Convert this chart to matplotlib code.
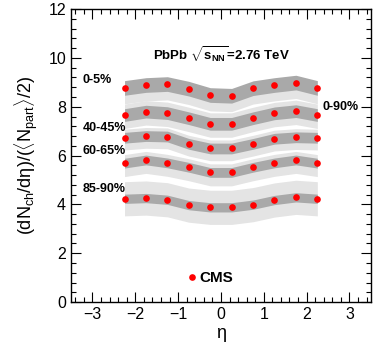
import numpy as np
import matplotlib.pyplot as plt
from matplotlib.ticker import MultipleLocator

plt.rcParams['font.family'] = ['Liberation Sans', 'DejaVu Sans']
plt.rcParams['mathtext.fontset'] = 'custom'
plt.rcParams['mathtext.rm'] = 'Liberation Sans'
plt.rcParams['mathtext.it'] = 'Liberation Sans'
plt.rcParams['mathtext.bf'] = 'Liberation Sans:bold'

eta = [-2.25, -1.75, -1.25, -0.75, -0.25, 0.25, 0.75, 1.25, 1.75, 2.25]

cent_0_5 = [8.77, 8.89, 8.93, 8.74, 8.48, 8.45, 8.76, 8.89, 8.99, 8.77]
cent_0_90 = [7.66, 7.80, 7.74, 7.53, 7.30, 7.30, 7.53, 7.73, 7.82, 7.66]
cent_40_45 = [6.73, 6.80, 6.78, 6.48, 6.29, 6.29, 6.48, 6.69, 6.75, 6.73]
cent_60_65 = [5.69, 5.82, 5.70, 5.52, 5.31, 5.31, 5.52, 5.70, 5.82, 5.69]
cent_85_90 = [4.23, 4.26, 4.19, 3.97, 3.88, 3.88, 3.99, 4.18, 4.29, 4.23]

rows = [cent_0_5, cent_0_90, cent_40_45, cent_60_65, cent_85_90]
# systematic bands (dark) and model bands (light), half widths / offsets
dark_err = [0.30, 0.26, 0.22, 0.20, 0.19]
light_lo = [0.65, 0.55, 0.50, 0.55, 0.70]
light_hi = [0.00, 0.45, 0.35, 0.35, 0.70]

fig = plt.figure(figsize=(3.9, 3.5), dpi=100)
ax = fig.add_axes([0.182, 0.137, 0.769, 0.837])

x = np.array(eta)
for i, r in enumerate(rows):
    y = np.array(r)
    ax.fill_between(x, y - light_lo[i], y + light_hi[i], color='#e4e4e4', lw=0, zorder=1)
for i, r in enumerate(rows):
    y = np.array(r)
    ax.fill_between(x, y - dark_err[i], y + dark_err[i], color='#a9a9a9', lw=0, zorder=2)
    ax.plot(x, y, 'o', color='red', ms=4.8, mec='none', zorder=3)

ax.text(-3.23, 9.08, '0-5%', fontsize=9, fontweight='bold', va='center')
ax.text(-3.23, 7.11, '40-45%', fontsize=9, fontweight='bold', va='center')
ax.text(-3.23, 6.18, '60-65%', fontsize=9, fontweight='bold', va='center')
ax.text(-3.23, 4.64, '85-90%', fontsize=9, fontweight='bold', va='center')
ax.text(2.37, 8.0, '0-90%', fontsize=9, fontweight='bold', va='center')
ax.text(0.02, 10.12, r'PbPb $\sqrt{\mathbf{s}_{\mathbf{NN}}}$=2.76 TeV', fontsize=9.5,
        fontweight='bold', ha='center', va='center')

ax.plot([-0.67], [1.02], 'o', color='red', ms=4.8, mec='none')
ax.text(-0.5, 1.0, 'CMS', fontsize=11, fontweight='bold', va='center')

ax.set_xlim(-3.5, 3.5)
ax.set_ylim(0, 12)
ax.xaxis.set_major_locator(MultipleLocator(1))
ax.xaxis.set_minor_locator(MultipleLocator(0.2))
ax.yaxis.set_major_locator(MultipleLocator(2))
ax.yaxis.set_minor_locator(MultipleLocator(0.4))
ax.tick_params(which='both', direction='in', top=True, right=True, labelsize=11.5, width=0.8)
ax.tick_params(which='major', length=7)
ax.tick_params(which='minor', length=3.5)
for s in ax.spines.values():
    s.set_linewidth(1.0)

ax.set_xlabel('η', fontsize=13, labelpad=2)
ax.set_ylabel(r'(dN$_{\mathrm{ch}}$/dη)/($\langle$N$_{\mathrm{part}}$$\rangle$/2)', fontsize=13, labelpad=6)

fig.savefig('out.png', dpi=100)
